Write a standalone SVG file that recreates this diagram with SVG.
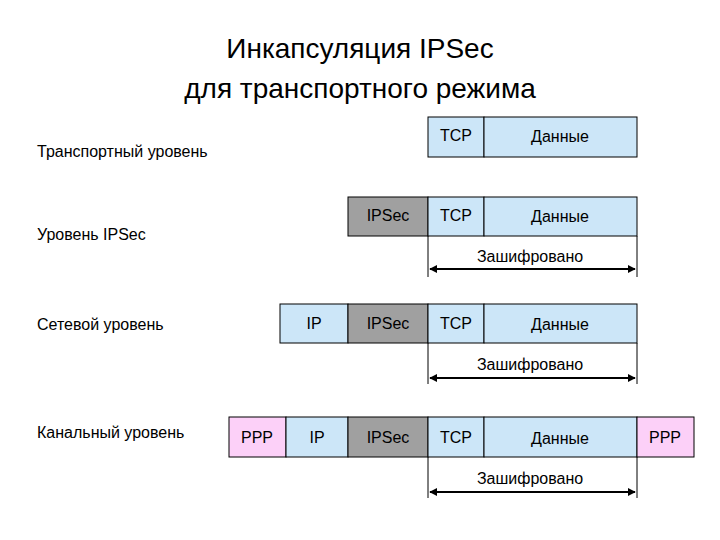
<svg xmlns="http://www.w3.org/2000/svg" width="720" height="540" viewBox="0 0 720 540">
<defs>
<style>
text{font-family:"Liberation Sans",Arial,sans-serif;fill:#000}
.b{fill:#cce6f8;stroke:#000;stroke-width:1}
.g{fill:#a0a0a0;stroke:#000;stroke-width:1}
.p{fill:#fcd0f8;stroke:#000;stroke-width:1}
.t{font-size:16px;text-anchor:middle}
.l{font-size:16px}
.ln{stroke:#000;stroke-width:1}
.ar{stroke:#000;stroke-width:2;marker-start:url(#a);marker-end:url(#a)}
</style>
<marker id="a" viewBox="0 0 10 10" refX="9" refY="5" markerWidth="4" markerHeight="4" orient="auto-start-reverse"><path d="M0,0L10,5L0,10z" fill="#000"/></marker>
</defs>
<rect width="720" height="540" fill="#fff"/>
<text x="360" y="58" font-size="28" text-anchor="middle" fill="#333">Инкапсуляция IPSec</text>
<text x="360" y="98" font-size="28" text-anchor="middle" fill="#333">для транспортного режима</text>
<g id="labels">
<text class="l" x="37" y="157">Транспортный уровень</text>
<text class="l" x="37" y="240">Уровень IPSec</text>
<text class="l" x="37" y="330">Сетевой уровень</text>
<text class="l" x="37" y="438">Канальный уровень</text>
</g>
<g id="row1">
<rect class="b" x="428" y="117" width="56" height="40"/><text class="t" x="456" y="141">TCP</text>
<rect class="b" x="484" y="117" width="153" height="40"/><text class="t" x="560" y="142">Данные</text>
</g>
<g id="row2">
<rect class="g" x="348" y="197" width="80" height="39"/><text class="t" x="388" y="221">IPSec</text>
<rect class="b" x="428" y="197" width="56" height="39"/><text class="t" x="456" y="221">TCP</text>
<rect class="b" x="484" y="197" width="153" height="39"/><text class="t" x="560" y="222">Данные</text>
</g>
<g id="row3">
<rect class="b" x="280" y="304" width="68" height="39"/><text class="t" x="314" y="329">IP</text>
<rect class="g" x="348" y="304" width="80" height="39"/><text class="t" x="388" y="329">IPSec</text>
<rect class="b" x="428" y="304" width="56" height="39"/><text class="t" x="456" y="329">TCP</text>
<rect class="b" x="484" y="304" width="153" height="39"/><text class="t" x="560" y="330">Данные</text>
</g>
<g id="row4">
<rect class="p" x="229" y="417" width="57" height="40"/><text class="t" x="257" y="443">PPP</text>
<rect class="b" x="286" y="417" width="62" height="40"/><text class="t" x="317" y="443">IP</text>
<rect class="g" x="348" y="417" width="80" height="40"/><text class="t" x="388" y="443">IPSec</text>
<rect class="b" x="428" y="417" width="56" height="40"/><text class="t" x="456" y="443">TCP</text>
<rect class="b" x="484" y="417" width="153" height="40"/><text class="t" x="560" y="444">Данные</text>
<rect class="p" x="637" y="417" width="57" height="40"/><text class="t" x="665" y="443">PPP</text>
</g>
<g id="connectors">
<line class="ln" x1="428" y1="236" x2="428" y2="277"/><line class="ln" x1="637" y1="236" x2="637" y2="277"/>
<line class="ar" x1="430" y1="269" x2="635" y2="269"/>
<line class="ln" x1="428" y1="343" x2="428" y2="384"/><line class="ln" x1="637" y1="343" x2="637" y2="384"/>
<line class="ar" x1="430" y1="378" x2="635" y2="378"/>
<line class="ln" x1="428" y1="457" x2="428" y2="498"/><line class="ln" x1="637" y1="457" x2="637" y2="498"/>
<line class="ar" x1="430" y1="492" x2="635" y2="492"/>
</g>
<text class="t" x="530" y="262">Зашифровано</text>
<text class="t" x="530" y="370">Зашифровано</text>
<text class="t" x="530" y="484">Зашифровано</text>
</svg>
